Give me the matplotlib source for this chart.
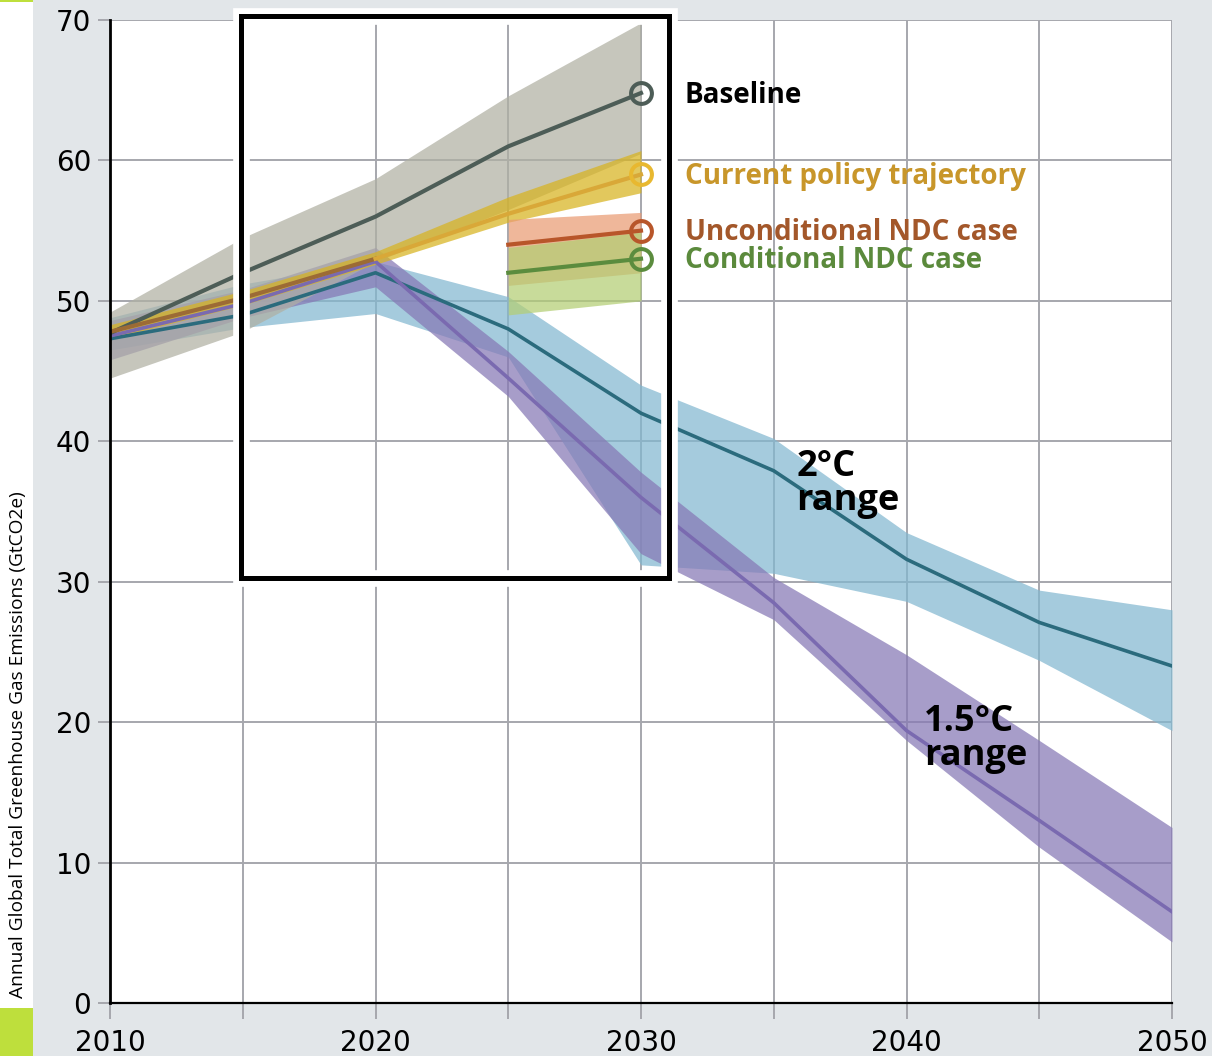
import matplotlib
matplotlib.use("Agg")
import matplotlib.pyplot as plt
from matplotlib.patches import Rectangle
import matplotlib.colors as mcolors
import matplotlib.transforms as mtransforms
import numpy as np

# ---------------- data ----------------
years_hist = [2010, 2015, 2020, 2025, 2030]
years_long = [2010, 2015, 2020, 2025, 2030, 2035, 2040, 2045, 2050]
years_ndc = [2025, 2030]

baseline_mid = [47.7, 52.0, 56.0, 61.0, 64.8]
baseline_low = [44.5, 47.8, 52.8, 56.5, 60.5]
baseline_high = [49.2, 54.5, 58.7, 64.6, 69.8]

hist_years = [2010, 2015, 2020]
hist_values = [47.8, 50.2, 53.0]

policy_years = [2020, 2025, 2030]
policy_mid = [53.0, 56.2, 59.0]
policy_band_low = [47.3, 49.7, 52.6, 55.6, 57.7]
policy_band_high = [48.3, 50.7, 53.5, 57.4, 60.7]

uncond_mid = [54.0, 55.0]
uncond_low = [51.1, 52.0]
uncond_high = [55.8, 56.3]

cond_mid = [52.0, 53.0]
cond_low = [49.0, 50.0]
cond_high = [53.8, 54.9]

c2_mid = [47.3, 49.0, 52.0, 48.0, 42.0, 37.9, 31.6, 27.1, 24.0]
c2_high = [48.8, 51.2, 52.8, 50.3, 44.0, 40.2, 33.5, 29.4, 28.0]
c2_low = [46.5, 48.1, 49.1, 46.0, 31.2, 30.6, 28.6, 24.4, 19.4]

c15_mid = [47.5, 49.8, 52.8, 44.5, 36.0, 28.5, 19.4, 13.0, 6.5]
c15_high = [48.6, 50.8, 53.8, 46.4, 37.8, 30.3, 24.8, 18.7, 12.5]
c15_low = [45.8, 48.8, 51.0, 43.2, 32.0, 27.3, 18.7, 11.1, 4.35]

label_names = ["Baseline", "Current policy trajectory",
               "Unconditional NDC case", "Conditional NDC case"]
x_ticks_major = [2010, 2020, 2030, 2040, 2050]
x_ticks_grid = [2015, 2025, 2035, 2045]
y_ticks = [0, 10, 20, 30, 40, 50, 60, 70]
box_x = [2014.93, 2031.05]
box_y = [30.27, 70.28]

# ---------------- style ----------------
ALPHA = 0.72


def solo(hexcol, a=ALPHA):
    d = np.array(mcolors.to_rgb(hexcol))
    c = 1 - (1 - d) / a
    return tuple(np.clip(c, 0, 1))


plt.rcParams['font.family'] = ['DejaVu Sans']

fig = plt.figure(figsize=(12.12, 10.56), dpi=100)
fig.patch.set_facecolor('#e2e6e9')
# white left strip and lime accents
fig.add_artist(Rectangle((0, 0), 33 / 1212, 1, transform=fig.transFigure,
                         facecolor='white', edgecolor='none', zorder=0))
fig.add_artist(Rectangle((0, 0), 33 / 1212, 48 / 1056, transform=fig.transFigure,
                         facecolor='#bedf3c', edgecolor='none', zorder=1))
fig.add_artist(Rectangle((0, 1 - 2 / 1056), 33 / 1212, 2 / 1056, transform=fig.transFigure,
                         facecolor='#bedf3c', edgecolor='none', zorder=1))

ax = fig.add_axes([110 / 1212, 53 / 1056, 1062 / 1212, 983 / 1056])
ax.set_facecolor('white')
ax.set_xlim(2010, 2050)
ax.set_ylim(0, 70)

gridc = '#a6a7ad'
all_x = sorted(x_ticks_major + x_ticks_grid)
ax.set_xticks(all_x)
ax.set_xticklabels([str(t) if t in x_ticks_major else '' for t in all_x])
ax.set_yticks(y_ticks)
ax.grid(True, color=gridc, lw=1.4)
ax.set_axisbelow(True)
ax.tick_params(axis='x', length=11.5, width=1.4, color=gridc, pad=7, labelsize=20)
ax.tick_params(axis='y', length=8.6, width=1.4, color=gridc, pad=5, labelsize=20)
for s in ['top', 'right']:
    ax.spines[s].set_visible(False)
ax.spines['left'].set_color('black')
ax.spines['left'].set_linewidth(2.0)
ax.spines['bottom'].set_color('black')
ax.spines['bottom'].set_linewidth(1.6)
ax.spines['left'].set_zorder(6)
ax.spines['bottom'].set_zorder(6)

# ---------------- bands ----------------
ax.fill_between(years_long, c2_low, c2_high, color=solo('#a5cbdd'), alpha=ALPHA, lw=0, zorder=1)
ax.fill_between(years_long, c15_low, c15_high, color=solo('#a89eca'), alpha=ALPHA, lw=0, zorder=1.1)
ax.fill_between(years_hist, baseline_low, baseline_high, color=solo('#c6c6bd'), alpha=ALPHA, lw=0, zorder=1.2)
ax.fill_between(years_hist, policy_band_low, policy_band_high, color=solo('#e3c85e'), alpha=ALPHA, lw=0, zorder=1.3)
ax.fill_between(years_ndc, uncond_low, uncond_high, color=solo('#f0b79b'), alpha=ALPHA, lw=0, zorder=1.4)
ax.fill_between(years_ndc, cond_low, cond_high, color=solo('#c8dc9b'), alpha=ALPHA, lw=0, zorder=1.5)

# ---------------- lines ----------------
ax.plot(years_long, c2_mid, color='#2b6b7d', lw=2.6, zorder=3)
ax.plot(years_long, c15_mid, color='#7a6ab0', lw=2.6, zorder=3.1)
ax.plot(years_hist, baseline_mid, color='#4d5d57', lw=3.0, zorder=3.2)
ax.plot(hist_years, hist_values, color='#9c6b35', lw=3.0, zorder=3.3)
ax.plot(policy_years, policy_mid, color='#d9a838', lw=3.0, zorder=3.3)
ax.plot(years_ndc, uncond_mid, color='#b8562a', lw=3.0, zorder=3.4)
ax.plot(years_ndc, cond_mid, color='#5b8c3e', lw=3.0, zorder=3.5)

# end markers
mk = dict(marker='o', markersize=15, markerfacecolor='none', markeredgewidth=2.9, zorder=4)
ax.plot([years_hist[-1]], [baseline_mid[-1]], markeredgecolor='#4d5d57', **mk)
ax.plot([policy_years[-1]], [policy_mid[-1]], markeredgecolor='#e8b830', **mk)
ax.plot([years_ndc[-1]], [uncond_mid[-1]], markeredgecolor='#b8562a', **mk)
ax.plot([years_ndc[-1]], [cond_mid[-1]], markeredgecolor='#5b8c3e', **mk)

# ---------------- box ----------------
bw = box_x[1] - box_x[0]
bh = box_y[1] - box_y[0]
ax.add_patch(Rectangle((box_x[0], box_y[0]), bw, bh, fill=False, edgecolor='white',
                       lw=12, zorder=5, clip_on=False, joinstyle='miter'))
ax.add_patch(Rectangle((box_x[0], box_y[0]), bw, bh, fill=False, edgecolor='black',
                       lw=3.6, zorder=5.1, clip_on=False, joinstyle='miter'))

# ---------------- labels ----------------
lab_font = ['Open Sans', 'DejaVu Sans']
lx = 2031.65
down = ax.transData + mtransforms.ScaledTranslation(0, -2 / 100, fig.dpi_scale_trans)
label_vals = [baseline_mid[-1], policy_mid[-1], uncond_mid[-1], cond_mid[-1]]
label_cols = ['black', '#c8962a', '#a3572a', '#5b8a3c']
for name, val, col in zip(label_names, label_vals, label_cols):
    ax.text(lx, val, name, color=col, fontsize=20, fontweight='bold', family=lab_font,
            va='center', ha='left', zorder=7, transform=down)

ax.text(2035.85, 39.45, "2°C\nrange", color='black', fontsize=26, fontweight='bold',
        family=lab_font, va='top', ha='left', linespacing=0.93, zorder=7)
ax.text(2040.65, 21.3, "1.5°C\nrange", color='black', fontsize=26, fontweight='bold',
        family=lab_font, va='top', ha='left', linespacing=0.93, zorder=7)

fig.text(18 / 1212, 1 - 745 / 1056, "Annual Global Total Greenhouse Gas Emissions (GtCO2e)",
         rotation=90, ha='center', va='center', fontsize=13.8, family=['Open Sans', 'DejaVu Sans'],
         color='black')

fig.savefig('out.png', dpi=100, facecolor=fig.get_facecolor())
